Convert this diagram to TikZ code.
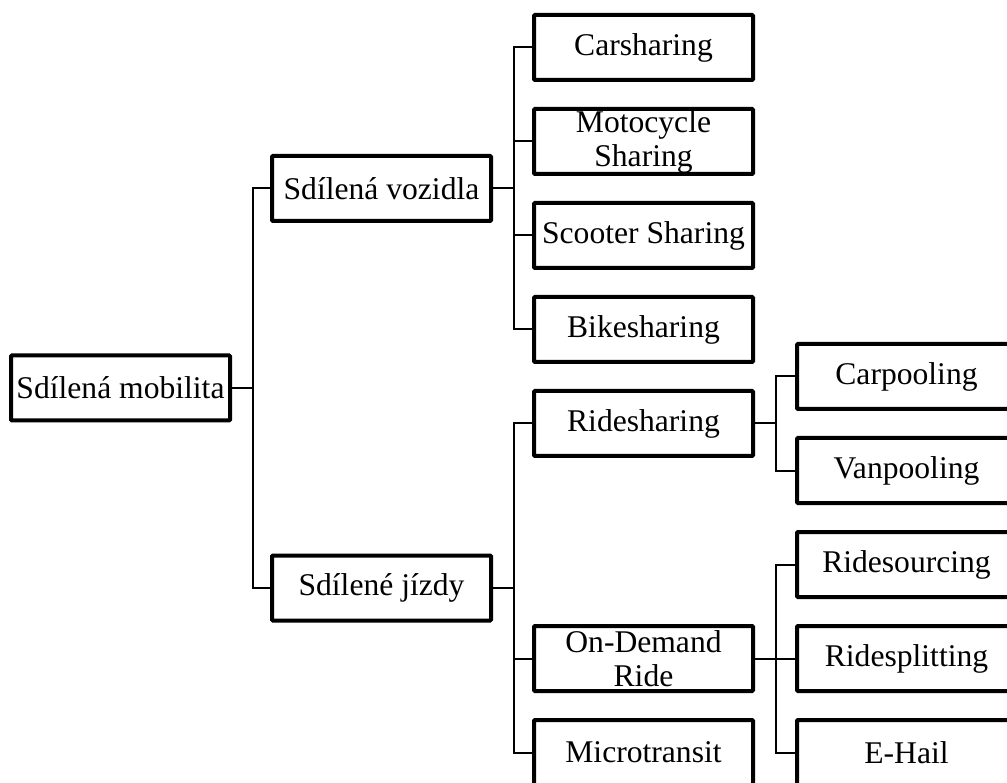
\documentclass[tikz,border=0pt]{standalone}
\usepackage{fontspec}
\setmainfont{Liberation Serif}
\usepackage{tikz}

\tikzset{
  box/.style={draw=black, line width=4pt, rounded corners=1pt,
    minimum width=219pt, minimum height=65pt, inner sep=0pt,
    align=center, font=\fontsize{31.6}{34}\selectfont},
  link/.style={black, line width=2pt}
}

\begin{document}
\begin{tikzpicture}[x=1pt,y=-1pt]
\clip (0,0) rectangle (1007,783);
% root and first level
\node [box] (root) at (120.5,388) {Sdílená mobilita};
\node [box] (vozidla) at (381.5,188.5) {Sdílená vozidla};
\node [box] (jizdy) at (381.5,588) {Sdílené jízdy};
% second level
\node [box] (carsh) at (643.5,47.5) {Carsharing};
\node [box] (motosh) at (643.5,141.5) {Motocycle\\Sharing};
\node [box] (scootsh) at (643.5,235.5) {Scooter Sharing};
\node [box] (bikesh) at (643.5,329.5) {Bikesharing};
\node [box] (ridesh) at (643.5,423.5) {Ridesharing};
\node [box] (ondemand) at (643.5,658.5) {On-Demand\\Ride};
\node [box] (micro) at (643.5,752.5) {Microtransit};
% third level
\node [box] (carpool) at (906.5,376.5) {Carpooling};
\node [box] (vanpool) at (906.5,470.5) {Vanpooling};
\node [box] (ridesrc) at (906.5,564.5) {Ridesourcing};
\node [box] (ridesplit) at (906.5,658.5) {Ridesplitting};
\node [box] (ehail) at (906.5,752.5) {E-Hail};
% connectors
\draw [link] (root.east) -- ++(21,0) |- (vozidla.west);
\draw [link] (root.east) -- ++(21,0) |- (jizdy.west);
\draw [link] (vozidla.east) -- ++(21,0) |- (carsh.west);
\draw [link] (vozidla.east) -- ++(21,0) |- (motosh.west);
\draw [link] (vozidla.east) -- ++(21,0) |- (scootsh.west);
\draw [link] (vozidla.east) -- ++(21,0) |- (bikesh.west);
\draw [link] (jizdy.east) -- ++(21,0) |- (ridesh.west);
\draw [link] (jizdy.east) -- ++(21,0) |- (ondemand.west);
\draw [link] (jizdy.east) -- ++(21,0) |- (micro.west);
\draw [link] (ridesh.east) -- ++(21,0) |- (carpool.west);
\draw [link] (ridesh.east) -- ++(21,0) |- (vanpool.west);
\draw [link] (ondemand.east) -- ++(21,0) |- (ridesrc.west);
\draw [link] (ondemand.east) -- ++(21,0) |- (ridesplit.west);
\draw [link] (ondemand.east) -- ++(21,0) |- (ehail.west);
\end{tikzpicture}
\end{document}
